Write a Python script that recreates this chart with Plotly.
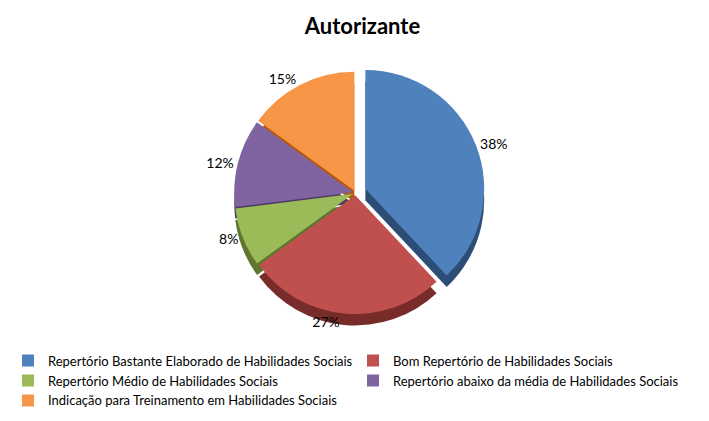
import plotly.graph_objects as go

categories = [
    "Repertório Bastante Elaborado de Habilidades Sociais",
    "Bom Repertório de Habilidades Sociais",
    "Repertório Médio de Habilidades Sociais",
    "Repertório abaixo da média de Habilidades Sociais",
    "Indicação para Treinamento em Habilidades Sociais",
]
values = [38, 27, 8, 12, 15]
colors = ["#4F81BD", "#C0504D", "#9BBB59", "#8064A2", "#F79646"]
dark_colors = ["#2C4D75", "#772C2A", "#5F7530", "#4D3B62", "#B65708"]
pulls = [0.09, 0.02, 0.02, 0.02, 0.02]

fig = go.Figure()
# depth layer (darker side of the 3D look)
fig.add_trace(go.Pie(
    labels=categories, values=values, sort=False, direction="clockwise", rotation=0,
    marker=dict(colors=dark_colors, line=dict(width=0)),
    pull=pulls, textinfo="none", showlegend=False, hoverinfo="skip",
    domain=dict(x=[0, 0.98], y=[0.25, 0.93]),
))
fig.add_trace(go.Pie(
    labels=categories, values=values, sort=False, direction="clockwise", rotation=0,
    marker=dict(colors=colors, line=dict(width=0)),
    pull=pulls, textinfo="percent", textposition="outside",
    texttemplate="%{percent:.0%}",
    textfont=dict(size=14, color="#000000", family="Lato, Open Sans, sans-serif"),
    domain=dict(x=[0, 0.98], y=[0.28, 0.96]),
))

fig.update_layout(
    width=709, height=421,
    paper_bgcolor="white", plot_bgcolor="white",
    margin=dict(l=0, r=0, t=40, b=0, autoexpand=False),
    title=dict(text="<b>Autorizante</b>", x=0.5, xanchor="center", y=0.975, yanchor="top",
               font=dict(size=22, color="#000000", family="Lato, Open Sans, sans-serif")),
    legend=dict(orientation="h", x=0.0, xanchor="left", y=0.035, yanchor="bottom",
                entrywidth=300, entrywidthmode="pixels", traceorder="normal",
                font=dict(size=13, color="#000000", family="Lato, Open Sans, sans-serif"),
                itemsizing="constant", tracegroupgap=0, itemwidth=30),
)

fig.write_html("out.html")
